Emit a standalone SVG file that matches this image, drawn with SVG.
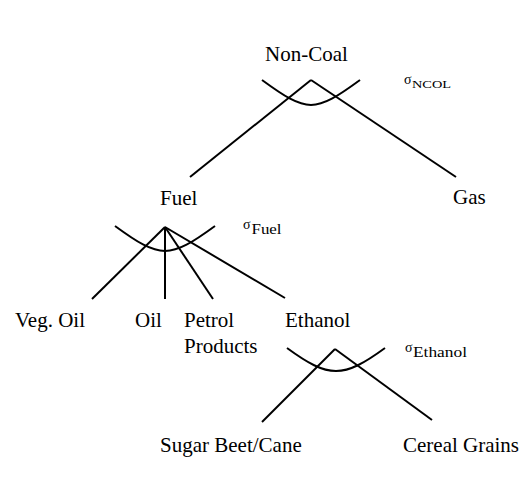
<svg xmlns="http://www.w3.org/2000/svg" width="525" height="493" viewBox="0 0 525 493">
<style>
.lbl{font-family:"Liberation Serif","Times New Roman",serif;font-size:21px;fill:#000}
.sig{font-family:"Liberation Serif","Times New Roman",serif;font-size:14px;fill:#000}
.sub{font-family:"Liberation Serif","Times New Roman",serif;fill:#000}
.ln{stroke:#000;stroke-width:2;fill:none;stroke-linecap:butt}
</style>
<rect width="525" height="493" fill="#fff"/>
<g id="connectors" class="ln">
<line x1="311" y1="80" x2="190" y2="177"/>
<line x1="311" y1="80" x2="456" y2="177"/>
<line x1="165" y1="227" x2="92" y2="299"/>
<line x1="165" y1="227" x2="165" y2="299"/>
<line x1="165" y1="227" x2="213" y2="299"/>
<line x1="165" y1="227" x2="285" y2="298"/>
<line x1="335" y1="349" x2="262" y2="422"/>
<line x1="335" y1="349" x2="432" y2="420"/>
</g>
<g id="sigma-ncol">
<path class="ln" d="M262,80 C307.6,113.3 314.4,113.3 360,80"/>
<text class="sig" x="404" y="84">σ</text>
<text class="sub" x="412" y="88" font-size="10" textLength="39" lengthAdjust="spacingAndGlyphs">NCOL</text>
</g>
<g id="sigma-fuel">
<path class="ln" d="M115,226 C160.6,259.3 169.4,259.3 215,226"/>
<text class="sig" x="243" y="228.5">σ</text>
<text class="sub" x="251.5" y="234" font-size="14" textLength="30" lengthAdjust="spacingAndGlyphs">Fuel</text>
</g>
<g id="sigma-ethanol">
<path class="ln" d="M287,348 C329,378.7 343,378.7 385,348"/>
<text class="sig" x="405" y="352">σ</text>
<text class="sub" x="413" y="357" font-size="14" textLength="54" lengthAdjust="spacingAndGlyphs">Ethanol</text>
</g>
<g id="node-noncoal"><text class="lbl" x="265" y="61">Non-Coal</text></g>
<g id="node-fuel"><text class="lbl" x="160" y="205">Fuel</text></g>
<g id="node-gas"><text class="lbl" x="453" y="204">Gas</text></g>
<g id="node-vegoil"><text class="lbl" x="15" y="327">Veg. Oil</text></g>
<g id="node-oil"><text class="lbl" x="135" y="327">Oil</text></g>
<g id="node-petrol"><text class="lbl" x="184" y="327">Petrol</text><text class="lbl" x="184" y="353">Products</text></g>
<g id="node-ethanol"><text class="lbl" x="285" y="327">Ethanol</text></g>
<g id="node-sugar"><text class="lbl" x="160" y="452">Sugar Beet/Cane</text></g>
<g id="node-cereal"><text class="lbl" x="403" y="452">Cereal Grains</text></g>
</svg>
